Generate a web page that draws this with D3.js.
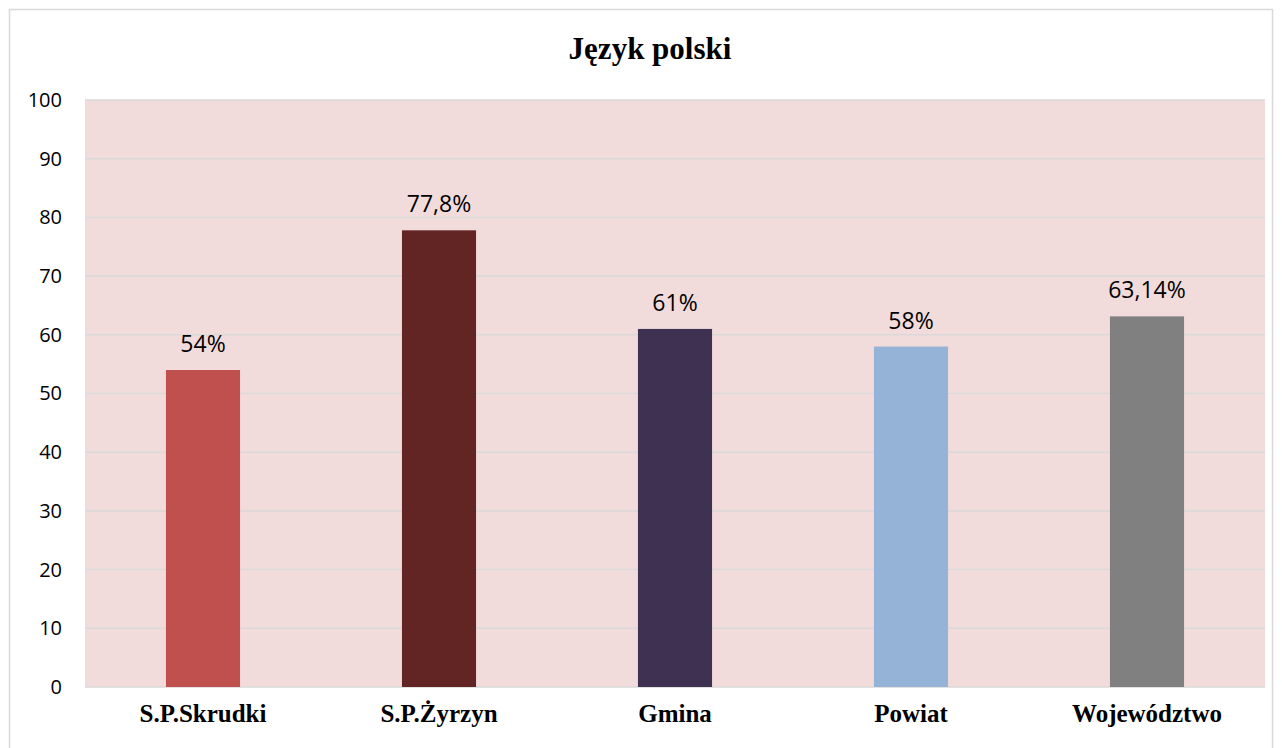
<!DOCTYPE html>
<html lang="pl">
<head>
    <meta charset="UTF-8">
    <title>Język polski</title>
    <script src="https://d3js.org/d3.v7.min.js"></script>
    <style>
        body {
            margin: 0;
            padding: 0;
            background-color: #fff;
        }
        svg text {
            font-family: "Open Sans", "Noto Sans", Arial, sans-serif;
        }
        .title, .cat-label text {
            font-family: "Liberation Serif", "Times New Roman", serif !important;
            font-weight: bold;
        }
    </style>
</head>
<body>
    <svg id="chart" width="1282" height="748"></svg>

    <script>
        // data
        const categories = ["S.P.Skrudki", "S.P.Żyrzyn", "Gmina", "Powiat", "Województwo"];
        const values = [54, 77.8, 61, 58, 63.14];
        const valueLabels = ["54%", "77,8%", "61%", "58%", "63,14%"];
        const barColors = ["#c0504d", "#632523", "#3f3151", "#95b3d7", "#808080"];
        const yTicks = [0, 10, 20, 30, 40, 50, 60, 70, 80, 90, 100];

        const svg = d3.select("#chart");
        const margin = { top: 100, right: 17, bottom: 61, left: 85 };
        const width = 1282 - margin.left - margin.right;
        const height = 748 - margin.top - margin.bottom;

        // outer chart border
        svg.append("rect")
            .attr("x", 9.5).attr("y", 9.5)
            .attr("width", 1263).attr("height", 760)
            .attr("fill", "#fff")
            .attr("stroke", "#d9d9d9")
            .attr("stroke-width", 1.5);

        svg.append("text")
            .attr("class", "title")
            .attr("x", 650)
            .attr("y", 59)
            .attr("text-anchor", "middle")
            .style("font-size", "31px")
            .text("Język polski");

        const chart = svg.append("g")
            .attr("transform", `translate(${margin.left},${margin.top})`);

        const x = d3.scaleBand().domain(categories).range([0, width]).paddingInner(0.686).paddingOuter(0.343);
        const y = d3.scaleLinear().domain([0, 100]).range([height, 0]);

        // plot background
        chart.append("rect")
            .attr("width", width).attr("height", height)
            .attr("fill", "#f2dcdb");

        // gridlines
        chart.append("g")
            .selectAll("line")
            .data(yTicks)
            .join("line")
            .attr("x1", 0).attr("x2", width)
            .attr("y1", d => y(d)).attr("y2", d => y(d))
            .attr("stroke", "#d9d9d9")
            .attr("stroke-width", 1.5);

        // y axis
        const yAxis = chart.append("g")
            .call(d3.axisLeft(y).tickValues(yTicks).tickSize(0).tickPadding(23));
        yAxis.select(".domain").remove();
        yAxis.selectAll("text")
            .style("font-size", "20px")
            .attr("fill", "#000");

        // bars
        chart.selectAll(".bar")
            .data(values)
            .join("rect")
            .attr("class", "bar")
            .attr("x", (d, i) => x(categories[i]))
            .attr("y", d => y(d))
            .attr("width", x.bandwidth())
            .attr("height", d => height - y(d))
            .attr("fill", (d, i) => barColors[i]);

        // value labels
        chart.selectAll(".val")
            .data(values)
            .join("text")
            .attr("class", "val")
            .attr("x", (d, i) => x(categories[i]) + x.bandwidth() / 2)
            .attr("y", d => y(d) - 18)
            .attr("text-anchor", "middle")
            .style("font-size", "23px")
            .text((d, i) => valueLabels[i]);

        // x axis
        const xAxis = chart.append("g")
            .attr("class", "cat-label")
            .attr("transform", `translate(0,${height})`)
            .call(d3.axisBottom(x).tickSize(0).tickPadding(17));
        xAxis.select(".domain").remove();
        xAxis.selectAll("text")
            .style("font-size", "25px")
            .attr("fill", "#000");
    </script>
</body>
</html>
